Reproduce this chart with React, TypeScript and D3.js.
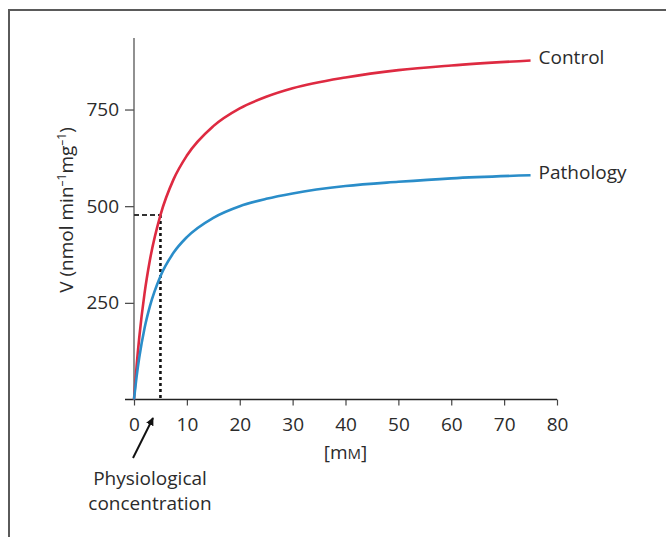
import { useRef, useEffect } from "react";
import * as d3 from "d3";

// readings, [mM] vs V (nmol min-1 mg-1)
const concentration = [0, 0.5, 1, 2, 3, 5, 7.5, 10, 15, 20, 25, 30, 40, 50, 60, 75];
const control = [0, 88, 161, 275, 360, 477, 570, 631, 707, 753, 783, 805, 833, 852, 864, 877];
const pathology = [0, 60, 109, 185, 241, 319, 380, 420, 470, 500, 519, 533, 552, 563, 572, 580];
const seriesNames = ["Control", "Pathology"];
const xTicks = [0, 10, 20, 30, 40, 50, 60, 70, 80];
const yTicks = [0, 250, 500, 750];
const physioConc = 5;
const physioV = 477;

const width = 666;
const height = 537;
const font = "'Open Sans', 'Noto Sans', sans-serif";
const textColor = "#2b2b2b";
const fontSize = 19;

function App() {
  const svgRef = useRef<SVGSVGElement>(null);

  useEffect(() => {
    const svg = d3.select(svgRef.current);
    svg.selectAll("*").remove();

    const x = d3.scaleLinear().domain([0, 80]).range([134, 557]);
    const y = d3.scaleLinear().domain([0, 935]).range([399.5, 38]);

    // frame
    svg
      .append("path")
      .attr("d", `M9,${height} V10 H${width}`)
      .attr("fill", "none")
      .attr("stroke", "#5a5a5a")
      .attr("stroke-width", 2);

    // x axis
    const xAxis = svg
      .append("g")
      .attr("transform", `translate(0, ${y(0)})`)
      .call(d3.axisBottom(x).tickValues(xTicks).tickSize(6).tickSizeOuter(0).tickPadding(12));
    xAxis.select(".domain").remove();
    xAxis
      .append("line")
      .attr("x1", x(0) - 9)
      .attr("x2", x(80))
      .attr("stroke", "#222")
      .attr("stroke-width", 1.3);
    xAxis.selectAll(".tick line").attr("stroke", "#444").attr("stroke-width", 1.2);
    xAxis
      .selectAll(".tick text")
      .attr("fill", textColor)
      .attr("font-size", fontSize)
      .attr("font-family", font);

    // y axis
    const yAxis = svg
      .append("g")
      .attr("transform", `translate(${x(0)}, 0)`)
      .call(
        d3
          .axisLeft(y)
          .tickValues(yTicks.filter((d) => d > 0))
          .tickSize(9)
          .tickSizeOuter(0)
          .tickPadding(6)
      );
    yAxis.select(".domain").remove();
    yAxis
      .append("line")
      .attr("y1", y.range()[0])
      .attr("y2", y.range()[1])
      .attr("stroke", "#555")
      .attr("stroke-width", 1.3);
    yAxis.selectAll(".tick line").attr("stroke", "#444").attr("stroke-width", 1.2);
    yAxis
      .selectAll(".tick text")
      .attr("fill", textColor)
      .attr("font-size", fontSize)
      .attr("font-family", font);

    // axis titles
    const xTitle = svg
      .append("text")
      .attr("x", x(40))
      .attr("y", 459)
      .attr("text-anchor", "middle")
      .attr("fill", textColor)
      .attr("font-size", fontSize)
      .attr("font-family", font);
    xTitle.append("tspan").text("[m");
    xTitle.append("tspan").attr("font-size", 15).text("M");
    xTitle.append("tspan").text("]");

    const yTitle = svg
      .append("text")
      .attr("transform", `translate(73, 210) rotate(-90)`)
      .attr("text-anchor", "middle")
      .attr("fill", textColor)
      .attr("font-size", fontSize)
      .attr("font-family", font);
    yTitle.append("tspan").text("V (nmol min");
    yTitle.append("tspan").attr("font-size", 12).attr("dy", -7).text("–1");
    yTitle.append("tspan").attr("dy", 7).text("mg");
    yTitle.append("tspan").attr("font-size", 12).attr("dy", -7).text("–1");
    yTitle.append("tspan").attr("dy", 7).text(")");

    // physiological concentration guides
    svg
      .append("line")
      .attr("x1", x(0))
      .attr("x2", x(physioConc))
      .attr("y1", y(physioV))
      .attr("y2", y(physioV))
      .attr("stroke", "#333")
      .attr("stroke-width", 2)
      .attr("stroke-dasharray", "5,3");
    svg
      .append("line")
      .attr("x1", x(physioConc))
      .attr("x2", x(physioConc))
      .attr("y1", y(physioV))
      .attr("y2", y(0))
      .attr("stroke", "#111")
      .attr("stroke-width", 2.6)
      .attr("stroke-dasharray", "3,3");

    // curves
    const series = [
      { name: seriesNames[0], values: control, color: "#de2a41" },
      { name: seriesNames[1], values: pathology, color: "#2a8dc9" },
    ];
    const line = d3
      .line<number>()
      .x((_, i) => x(concentration[i]))
      .y((d) => y(d))
      .curve(d3.curveMonotoneX);

    series.forEach((s) => {
      svg
        .append("path")
        .attr("d", line(s.values))
        .attr("fill", "none")
        .attr("stroke", s.color)
        .attr("stroke-width", 2.6);
      const last = s.values[s.values.length - 1];
      svg
        .append("text")
        .attr("x", x(concentration[concentration.length - 1]) + 8)
        .attr("y", y(last) + 4)
        .attr("fill", textColor)
        .attr("font-size", fontSize)
        .attr("font-family", font)
        .text(s.name);
    });

    // annotation arrow
    svg
      .append("defs")
      .append("marker")
      .attr("id", "arrowhead")
      .attr("viewBox", "0 0 10 10")
      .attr("refX", 9)
      .attr("refY", 5)
      .attr("markerWidth", 4)
      .attr("markerHeight", 4)
      .attr("orient", "auto")
      .append("path")
      .attr("d", "M0,0 L10,5 L0,10 z")
      .attr("fill", "#111");
    svg
      .append("line")
      .attr("x1", 133)
      .attr("y1", 458)
      .attr("x2", 153)
      .attr("y2", 418)
      .attr("stroke", "#111")
      .attr("stroke-width", 2)
      .attr("marker-end", "url(#arrowhead)");

    const note = svg
      .append("text")
      .attr("text-anchor", "middle")
      .attr("fill", textColor)
      .attr("font-size", fontSize)
      .attr("font-family", font);
    note.append("tspan").attr("x", 150).attr("y", 485).text("Physiological");
    note.append("tspan").attr("x", 150).attr("y", 510).text("concentration");
  }, []);

  return (
    <svg
      ref={svgRef}
      width={width}
      height={height}
      style={{ position: "absolute", left: 0, top: 0, background: "#fff" }}
    />
  );
}

export default App;
